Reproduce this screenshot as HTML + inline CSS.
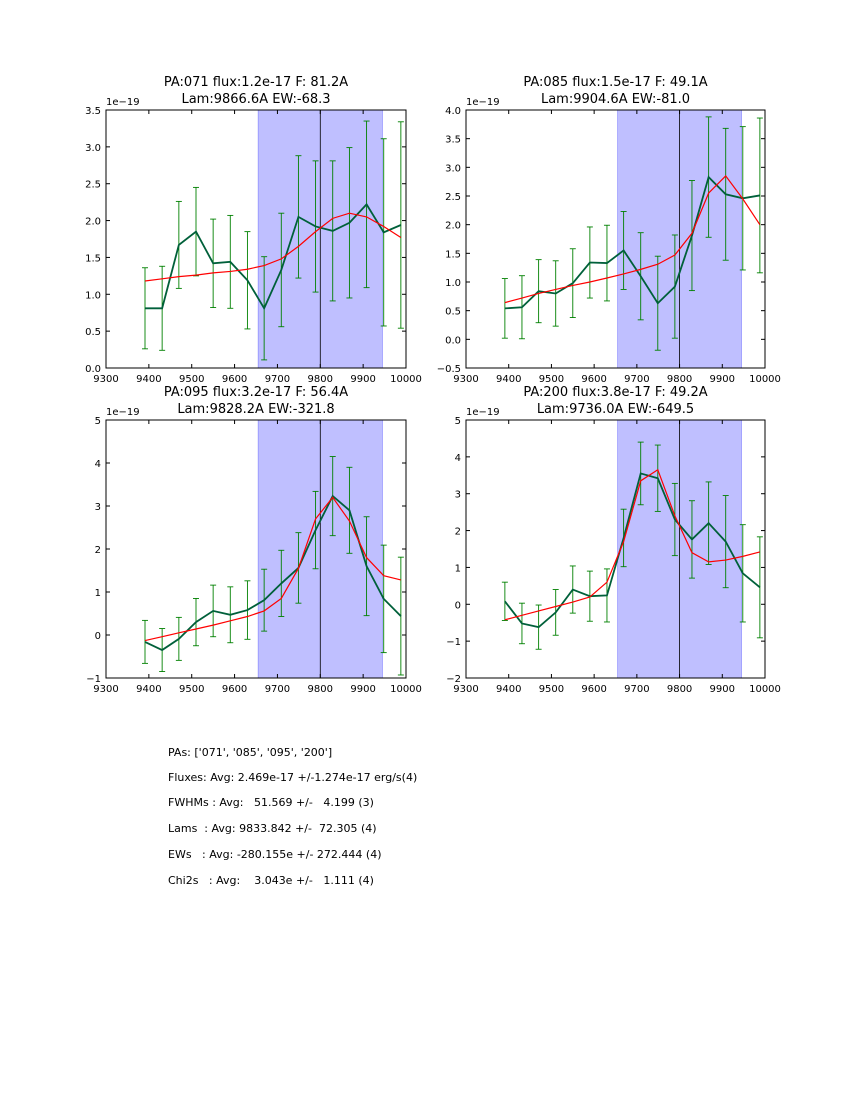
<!DOCTYPE html>
<html><head><meta charset="utf-8"><style>
body{margin:0;background:#fff;}
svg text{font-family:"DejaVu Sans","Liberation Sans",sans-serif;}
</style></head><body>
<svg id="fig" width="850" height="1100" xmlns="http://www.w3.org/2000/svg">
<rect width="850" height="1100" fill="#fff"/>
<g font-size="11" fill="#000">
<text x="168" y="756">PAs: ['071', '085', '095', '200']</text>
<text x="168" y="781">Fluxes: Avg: 2.469e-17 +/-1.274e-17 erg/s(4)</text>
<text x="168" y="806" xml:space="preserve">FWHMs : Avg:   51.569 +/-   4.199 (3)</text>
<text x="168" y="832" xml:space="preserve">Lams  : Avg: 9833.842 +/-  72.305 (4)</text>
<text x="168" y="858" xml:space="preserve">EWs   : Avg: -280.155e +/- 272.444 (4)</text>
<text x="168" y="884" xml:space="preserve">Chi2s   : Avg:    3.043e +/-   1.111 (4)</text>
</g>
</svg>
<script>
const xWave = [9391,9431,9470,9510,9550,9590,9630,9669,9709,9749,9789,9829,9868,9908,9948,9988];
const p1Flux = [0.81,0.81,1.67,1.85,1.42,1.44,1.19,0.81,1.33,2.05,1.92,1.86,1.97,2.22,1.84,1.94];
const p1Err  = [0.55,0.57,0.59,0.6,0.6,0.63,0.66,0.7,0.77,0.83,0.89,0.95,1.02,1.13,1.27,1.4];
const p1Model= [1.18,1.21,1.24,1.26,1.29,1.31,1.34,1.39,1.48,1.65,1.85,2.03,2.1,2.05,1.92,1.77];
const p2Flux = [0.54,0.56,0.84,0.8,0.98,1.34,1.33,1.55,1.1,0.63,0.92,1.81,2.83,2.53,2.46,2.51];
const p2Err  = [0.52,0.55,0.55,0.57,0.6,0.62,0.66,0.68,0.76,0.82,0.9,0.96,1.05,1.15,1.25,1.35];
const p2Model= [0.64,0.72,0.8,0.87,0.94,1.0,1.07,1.14,1.22,1.31,1.47,1.85,2.55,2.85,2.45,2.0];
const p3Flux = [-0.16,-0.35,-0.09,0.3,0.56,0.47,0.58,0.81,1.2,1.56,2.44,3.23,2.9,1.6,0.84,0.44];
const p3Err  = [0.5,0.5,0.5,0.55,0.6,0.65,0.68,0.72,0.77,0.82,0.9,0.92,1.0,1.15,1.25,1.37];
const p3Model= [-0.13,-0.04,0.05,0.14,0.23,0.33,0.43,0.56,0.85,1.55,2.7,3.2,2.65,1.8,1.38,1.28];
const p4Flux = [0.08,-0.52,-0.62,-0.22,0.4,0.22,0.24,1.8,3.55,3.42,2.3,1.76,2.2,1.7,0.84,0.46];
const p4Err  = [0.52,0.55,0.6,0.62,0.64,0.68,0.72,0.78,0.85,0.9,0.98,1.05,1.12,1.25,1.32,1.37];
const p4Model= [-0.42,-0.3,-0.18,-0.06,0.06,0.2,0.6,1.7,3.35,3.65,2.4,1.4,1.15,1.2,1.3,1.42];
const xTicks = [9300,9400,9500,9600,9700,9800,9900,10000];
const panels = [
 {id:'pa071',x0:106,y0:110,w:300,h:258,ymin:0,ymax:3.5,yt:[0,0.5,1,1.5,2,2.5,3,3.5],fmt:1,flux:p1Flux,err:p1Err,model:p1Model,t1:'PA:071 flux:1.2e-17 F: 81.2A',t2:'Lam:9866.6A EW:-68.3'},
 {id:'pa085',x0:466,y0:110,w:299,h:258,ymin:-0.5,ymax:4,yt:[-0.5,0,0.5,1,1.5,2,2.5,3,3.5,4],fmt:1,flux:p2Flux,err:p2Err,model:p2Model,t1:'PA:085 flux:1.5e-17 F: 49.1A',t2:'Lam:9904.6A EW:-81.0'},
 {id:'pa095',x0:106,y0:420,w:300,h:258,ymin:-1,ymax:5,yt:[-1,0,1,2,3,4,5],fmt:0,flux:p3Flux,err:p3Err,model:p3Model,t1:'PA:095 flux:3.2e-17 F: 56.4A',t2:'Lam:9828.2A EW:-321.8'},
 {id:'pa200',x0:466,y0:420,w:299,h:258,ymin:-2,ymax:5,yt:[-2,-1,0,1,2,3,4,5],fmt:0,flux:p4Flux,err:p4Err,model:p4Model,t1:'PA:200 flux:3.8e-17 F: 49.2A',t2:'Lam:9736.0A EW:-649.5'}
];
const NS='http://www.w3.org/2000/svg';
const fig=document.getElementById('fig');
function mk(tag,attrs,parent){const e=document.createElementNS(NS,tag);for(const k in attrs)e.setAttribute(k,attrs[k]);parent.appendChild(e);return e;}
panels.forEach(p=>{
 const g=mk('g',{},fig);
 
 
 const sx=v=>p.x0+(v-9300)/700*p.w;
 const sy=v=>p.y0+p.h-(v-p.ymin)/(p.ymax-p.ymin)*p.h;
 const sh=mk('rect',{x:sx(9655),y:p.y0,width:sx(9945)-sx(9655),height:p.h,fill:'#bfbfff',stroke:'#7f7fff','stroke-width':0.6},g);
 
 
 const vl=mk('line',{x1:sx(9800),x2:sx(9800),y1:p.y0,y2:p.y0+p.h,stroke:'#000','stroke-width':0.8},g);
 
 
 xWave.forEach((x,i)=>{
  const eb=mk('g',{stroke:'#008000','stroke-width':0.9},g);
  
  
  const X=sx(x),t=sy(p.flux[i]+p.err[i]),b=sy(p.flux[i]-p.err[i]);
  mk('line',{x1:X,x2:X,y1:t,y2:b},eb);
  mk('line',{x1:X-3,x2:X+3,y1:t,y2:t},eb);
  mk('line',{x1:X-3,x2:X+3,y1:b,y2:b},eb);
 });
 const dl=mk('polyline',{points:xWave.map((x,i)=>sx(x)+','+sy(p.flux[i])).join(' '),fill:'none',stroke:'#00603a','stroke-width':1.8},g);
 
 
 const ml=mk('polyline',{points:xWave.map((x,i)=>sx(x)+','+sy(p.model[i])).join(' '),fill:'none',stroke:'#ff0000','stroke-width':1.2},g);
 
 
 const fr=mk('rect',{x:p.x0,y:p.y0,width:p.w,height:p.h,fill:'none',stroke:'#000','stroke-width':1},g);
 
 
 xTicks.forEach(v=>{
  const X=sx(v);
  mk('line',{x1:X,x2:X,y1:p.y0+p.h,y2:p.y0+p.h-4,stroke:'#000'},g);
  mk('line',{x1:X,x2:X,y1:p.y0,y2:p.y0+4,stroke:'#000'},g);
  const t=mk('text',{x:X,y:p.y0+p.h+14,'font-size':10,'text-anchor':'middle'},g);
  t.textContent=v;
  
  
 });
 p.yt.forEach(v=>{
  const Y=sy(v);
  mk('line',{x1:p.x0,x2:p.x0+4,y1:Y,y2:Y,stroke:'#000'},g);
  mk('line',{x1:p.x0+p.w,x2:p.x0+p.w-4,y1:Y,y2:Y,stroke:'#000'},g);
  const t=mk('text',{x:p.x0-5,y:Y+4,'font-size':10,'text-anchor':'end'},g);
  t.textContent=(v<0?'\u2212':'')+Math.abs(v).toFixed(p.fmt);
  
  
 });
 const off=mk('text',{x:p.x0,y:p.y0-5,'font-size':10},g);
 off.textContent='1e\u221219';
 
 
 const cx=p.x0+p.w/2;
 const a=mk('text',{x:cx,y:p.y0-24,'font-size':13,'text-anchor':'middle'},g);
 a.textContent=p.t1;
 
 
 const b=mk('text',{x:cx,y:p.y0-7,'font-size':13,'text-anchor':'middle'},g);
 b.textContent=p.t2;
 
 
});
</script>
</body></html>
